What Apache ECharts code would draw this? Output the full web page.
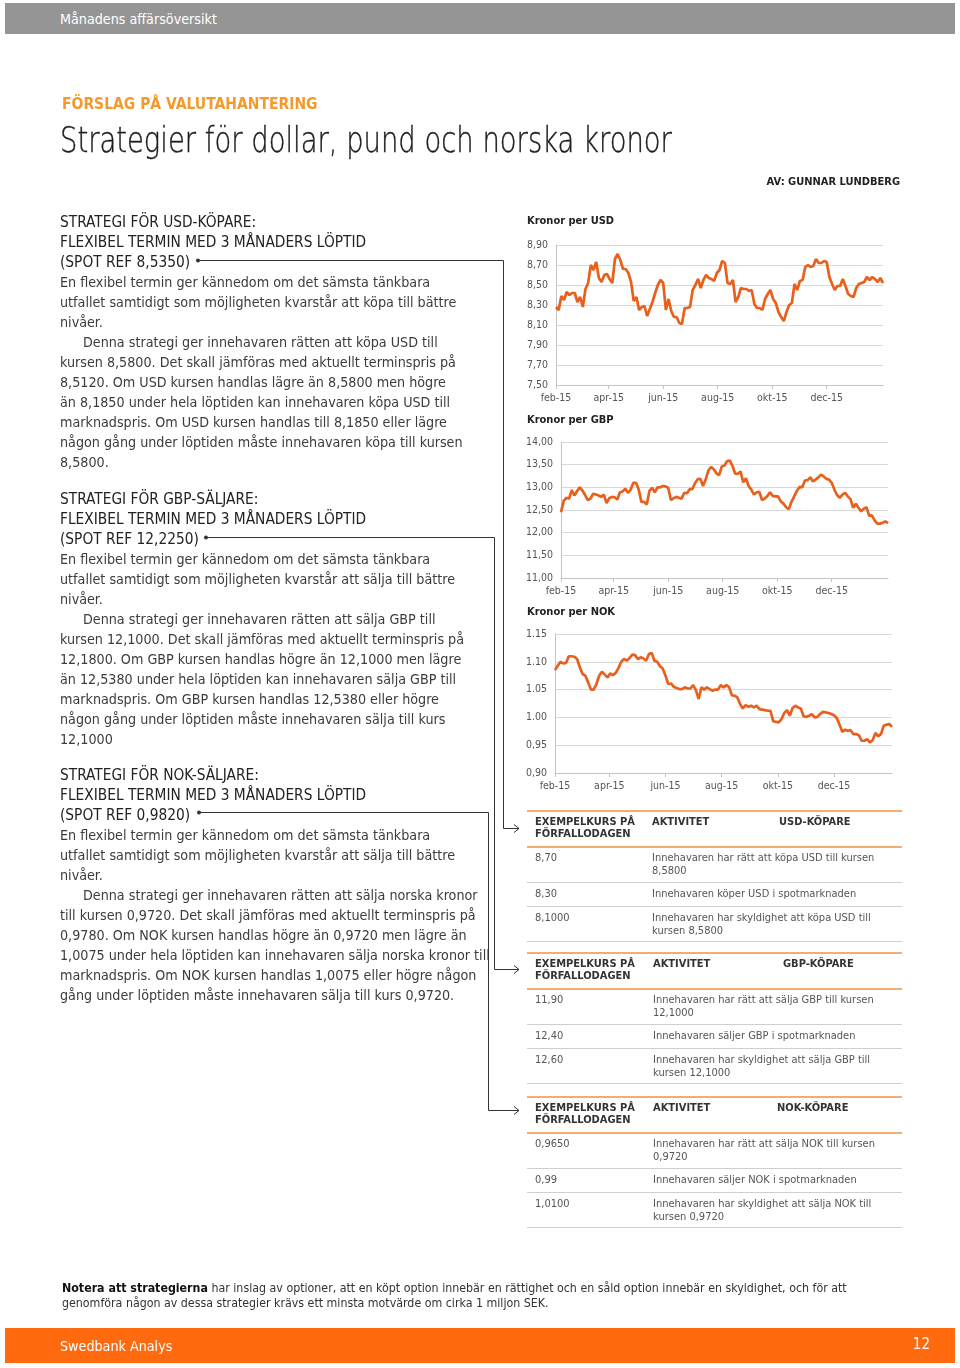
<!DOCTYPE html>
<html><head><meta charset="utf-8">
<script src="https://cdn.jsdelivr.net/npm/echarts@6/dist/echarts.min.js"></script>
<style>
html,body{margin:0;padding:0;background:#fff;}
#page{position:relative;width:960px;height:1368px;overflow:hidden;font-family:'DejaVu Sans Condensed','DejaVu Sans',sans-serif;color:#333;}
#chart{position:absolute;left:0;top:0;width:960px;height:1368px;}
.abs{position:absolute;white-space:nowrap;}
.block{left:60px;font-size:14.2px;line-height:20px;color:#3c3c3c;}
.block .hd{color:#222;font-size:15.3px;}
.ind{padding-left:23px;}
.th{font-size:11px;font-weight:bold;line-height:12px;color:#333;}
.td{font-size:11px;line-height:13px;color:#555;}
.ol{position:absolute;left:527px;width:375px;height:2px;background:#f2ad73;}
.gl{position:absolute;left:527px;width:375px;height:1px;background:#cfcfcf;}
</style></head>
<body>
<div id="page">
<div id="chart"></div>

<div class="abs" style="left:5px;top:3px;width:950px;height:31px;background:#959595;"></div>
<div class="abs" style="left:60px;top:9px;font-size:14.2px;line-height:20px;color:#fff;">Månadens affärsöversikt</div>
<div class="abs" style="left:62px;top:94px;font-size:15.5px;line-height:20px;font-weight:bold;color:#f39a2b;">FÖRSLAG PÅ VALUTAHANTERING</div>
<div id="ttl" class="abs" style="left:60px;top:118px;font-family:'DejaVu Sans',sans-serif;font-weight:200;font-size:35px;line-height:44px;color:#1e1e1e;-webkit-text-stroke:0.4px #1e1e1e;transform-origin:0 0;">Strategier för dollar, pund och norska kronor</div>
<div class="abs" style="right:60px;top:175px;font-size:11px;line-height:14px;font-weight:bold;color:#222;">AV: GUNNAR LUNDBERG</div>

<div class="abs block" style="top:212px;">
<div class="hd">STRATEGI FÖR USD-KÖPARE:</div>
<div class="hd">FLEXIBEL TERMIN MED 3 MÅNADERS LÖPTID</div>
<div class="hd">(SPOT REF 8,5350)</div>
<div>En flexibel termin ger kännedom om det sämsta tänkbara</div>
<div>utfallet samtidigt som möjligheten kvarstår att köpa till bättre</div>
<div>nivåer.</div>
<div class="ind">Denna strategi ger innehavaren rätten att köpa USD till</div>
<div>kursen 8,5800. Det skall jämföras med aktuellt terminspris på</div>
<div>8,5120. Om USD kursen handlas lägre än 8,5800 men högre</div>
<div>än 8,1850 under hela löptiden kan innehavaren köpa USD till</div>
<div>marknadspris. Om USD kursen handlas till 8,1850 eller lägre</div>
<div>någon gång under löptiden måste innehavaren köpa till kursen</div>
<div>8,5800.</div>
</div>

<div class="abs block" style="top:489px;">
<div class="hd">STRATEGI FÖR GBP-SÄLJARE:</div>
<div class="hd">FLEXIBEL TERMIN MED 3 MÅNADERS LÖPTID</div>
<div class="hd">(SPOT REF 12,2250)</div>
<div>En flexibel termin ger kännedom om det sämsta tänkbara</div>
<div>utfallet samtidigt som möjligheten kvarstår att sälja till bättre</div>
<div>nivåer.</div>
<div class="ind">Denna strategi ger innehavaren rätten att sälja GBP till</div>
<div>kursen 12,1000. Det skall jämföras med aktuellt terminspris på</div>
<div>12,1800. Om GBP kursen handlas högre än 12,1000 men lägre</div>
<div>än 12,5380 under hela löptiden kan innehavaren sälja GBP till</div>
<div>marknadspris. Om GBP kursen handlas 12,5380 eller högre</div>
<div>någon gång under löptiden måste innehavaren sälja till kurs</div>
<div>12,1000</div>
</div>

<div class="abs block" style="top:765px;">
<div class="hd">STRATEGI FÖR NOK-SÄLJARE:</div>
<div class="hd">FLEXIBEL TERMIN MED 3 MÅNADERS LÖPTID</div>
<div class="hd">(SPOT REF 0,9820)</div>
<div>En flexibel termin ger kännedom om det sämsta tänkbara</div>
<div>utfallet samtidigt som möjligheten kvarstår att sälja till bättre</div>
<div>nivåer.</div>
<div class="ind">Denna strategi ger innehavaren rätten att sälja norska kronor</div>
<div>till kursen 0,9720. Det skall jämföras med aktuellt terminspris på</div>
<div>0,9780. Om NOK kursen handlas högre än 0,9720 men lägre än</div>
<div>1,0075 under hela löptiden kan innehavaren sälja norska kronor till</div>
<div>marknadspris. Om NOK kursen handlas 1,0075 eller högre någon</div>
<div>gång under löptiden måste innehavaren sälja till kurs 0,9720.</div>
</div>

<svg class="abs" style="left:0;top:0;" width="960" height="1368" fill="none" stroke="#333" stroke-width="1">
<circle cx="198" cy="260.5" r="2" fill="#333" stroke="none"/>
<path d="M198 260.5 H503.5 V828.5 H519 M514 824.5 L519 828.5 L514 832.5"/>
<circle cx="206" cy="537.5" r="2" fill="#333" stroke="none"/>
<path d="M206 537.5 H494.5 V969.5 H519 M514 965.5 L519 969.5 L514 973.5"/>
<circle cx="199" cy="812.5" r="2" fill="#333" stroke="none"/>
<path d="M199 812.5 H488.5 V1110.5 H519 M514 1106.5 L519 1110.5 L514 1114.5"/>
</svg>

<!-- Table USD -->
<div class="ol" style="top:810px;"></div>
<div class="abs th" style="left:535px;top:816px;">EXEMPELKURS PÅ<br>FÖRFALLODAGEN</div>
<div class="abs th" style="left:652px;top:816px;">AKTIVITET</div>
<div class="abs th" style="left:779px;top:816px;">USD-KÖPARE</div>
<div class="ol" style="top:846px;"></div>
<div class="abs td" style="left:535px;top:851px;">8,70</div>
<div class="abs td" style="left:652px;top:851px;">Innehavaren har rätt att köpa USD till kursen<br>8,5800</div>
<div class="gl" style="top:882px;"></div>
<div class="abs td" style="left:535px;top:887px;">8,30</div>
<div class="abs td" style="left:652px;top:887px;">Innehavaren köper USD i spotmarknaden</div>
<div class="gl" style="top:906px;"></div>
<div class="abs td" style="left:535px;top:911px;">8,1000</div>
<div class="abs td" style="left:652px;top:911px;">Innehavaren har skyldighet att köpa USD till<br>kursen 8,5800</div>
<div class="gl" style="top:941px;"></div>

<!-- Table GBP -->
<div class="ol" style="top:952px;"></div>
<div class="abs th" style="left:535px;top:958px;">EXEMPELKURS PÅ<br>FÖRFALLODAGEN</div>
<div class="abs th" style="left:653px;top:958px;">AKTIVITET</div>
<div class="abs th" style="left:783px;top:958px;">GBP-KÖPARE</div>
<div class="ol" style="top:988px;"></div>
<div class="abs td" style="left:535px;top:993px;">11,90</div>
<div class="abs td" style="left:653px;top:993px;">Innehavaren har rätt att sälja GBP till kursen<br>12,1000</div>
<div class="gl" style="top:1024px;"></div>
<div class="abs td" style="left:535px;top:1029px;">12,40</div>
<div class="abs td" style="left:653px;top:1029px;">Innehavaren säljer GBP i spotmarknaden</div>
<div class="gl" style="top:1048px;"></div>
<div class="abs td" style="left:535px;top:1053px;">12,60</div>
<div class="abs td" style="left:653px;top:1053px;">Innehavaren har skyldighet att sälja GBP till<br>kursen 12,1000</div>
<div class="gl" style="top:1083px;"></div>

<!-- Table NOK -->
<div class="ol" style="top:1096px;"></div>
<div class="abs th" style="left:535px;top:1102px;">EXEMPELKURS PÅ<br>FÖRFALLODAGEN</div>
<div class="abs th" style="left:653px;top:1102px;">AKTIVITET</div>
<div class="abs th" style="left:777px;top:1102px;">NOK-KÖPARE</div>
<div class="ol" style="top:1132px;"></div>
<div class="abs td" style="left:535px;top:1137px;">0,9650</div>
<div class="abs td" style="left:653px;top:1137px;">Innehavaren har rätt att sälja NOK till kursen<br>0,9720</div>
<div class="gl" style="top:1168px;"></div>
<div class="abs td" style="left:535px;top:1173px;">0,99</div>
<div class="abs td" style="left:653px;top:1173px;">Innehavaren säljer NOK i spotmarknaden</div>
<div class="gl" style="top:1192px;"></div>
<div class="abs td" style="left:535px;top:1197px;">1,0100</div>
<div class="abs td" style="left:653px;top:1197px;">Innehavaren har skyldighet att sälja NOK till<br>kursen 0,9720</div>
<div class="gl" style="top:1227px;"></div>

<div class="abs" style="left:62px;top:1281px;font-size:12.3px;line-height:15px;color:#333;"><b style="color:#111;">Notera att strategierna</b> har inslag av optioner, att en köpt option innebär en rättighet och en såld option innebär en skyldighet, och för att<br>genomföra någon av dessa strategier krävs ett minsta motvärde om cirka 1 miljon SEK.</div>

<div class="abs" style="left:5px;top:1328px;width:950px;height:35px;background:#ff6a0e;"></div>
<div class="abs" style="left:60px;top:1336px;font-size:14.2px;line-height:20px;color:#fff;">Swedbank Analys</div>
<div class="abs" style="right:30px;top:1334px;font-size:15px;line-height:20px;color:#fff;">12</div>
</div>

<script>
// ---------- data ----------
const dates = [
'2015-02-01','2015-02-04','2015-02-07','2015-02-10','2015-02-13','2015-02-16','2015-02-19','2015-02-22','2015-02-25','2015-02-28',
'2015-03-03','2015-03-06','2015-03-09','2015-03-12','2015-03-15','2015-03-18','2015-03-21','2015-03-24','2015-03-27','2015-03-30',
'2015-04-02','2015-04-05','2015-04-08','2015-04-11','2015-04-14','2015-04-17','2015-04-20','2015-04-23','2015-04-26','2015-04-29',
'2015-05-02','2015-05-05','2015-05-08','2015-05-11','2015-05-14','2015-05-17','2015-05-20','2015-05-23','2015-05-26','2015-05-29',
'2015-06-01','2015-06-04','2015-06-07','2015-06-10','2015-06-13','2015-06-16','2015-06-19','2015-06-22','2015-06-25','2015-06-28',
'2015-07-01','2015-07-04','2015-07-07','2015-07-10','2015-07-13','2015-07-16','2015-07-19','2015-07-22','2015-07-25','2015-07-28','2015-07-31',
'2015-08-03','2015-08-06','2015-08-09','2015-08-12','2015-08-15','2015-08-18','2015-08-21','2015-08-24','2015-08-27','2015-08-30',
'2015-09-02','2015-09-05','2015-09-08','2015-09-11','2015-09-14','2015-09-17','2015-09-20','2015-09-23','2015-09-26','2015-09-29',
'2015-10-02','2015-10-05','2015-10-08','2015-10-11','2015-10-14','2015-10-17','2015-10-20','2015-10-23','2015-10-26','2015-10-29',
'2015-11-01','2015-11-04','2015-11-07','2015-11-10','2015-11-13','2015-11-16','2015-11-19','2015-11-22','2015-11-25','2015-11-28',
'2015-12-01','2015-12-04','2015-12-07','2015-12-10','2015-12-13','2015-12-16','2015-12-19','2015-12-22','2015-12-25','2015-12-28','2015-12-31',
'2016-01-03','2016-01-06','2016-01-09','2016-01-12','2016-01-15','2016-01-18','2016-01-21','2016-01-24','2016-01-27','2016-01-30',
'2016-02-02'];

const usdValues = [
8.28,8.25,8.39,8.35,8.43,8.40,8.42,8.42,8.33,8.38,
8.28,8.46,8.52,8.70,8.65,8.73,8.57,8.53,8.60,8.61,
8.56,8.52,8.76,8.81,8.75,8.66,8.66,8.62,8.53,8.34,
8.38,8.25,8.28,8.29,8.19,8.26,8.33,8.42,8.50,8.55,
8.52,8.25,8.36,8.24,8.18,8.18,8.12,8.11,8.27,8.27,
8.28,8.45,8.50,8.56,8.47,8.55,8.60,8.57,8.56,8.54,
8.62,8.65,8.74,8.72,8.52,8.51,8.55,8.33,8.38,8.47,
8.46,8.46,8.44,8.45,8.31,8.27,8.27,8.25,8.36,8.41,
8.45,8.36,8.32,8.23,8.18,8.14,8.23,8.30,8.32,8.51,
8.45,8.54,8.55,8.68,8.70,8.68,8.69,8.76,8.72,8.72,
8.74,8.73,8.58,8.51,8.45,8.49,8.49,8.56,8.49,8.41,
8.39,8.38,8.47,8.51,8.52,8.53,8.58,8.55,8.58,8.56,
8.53,8.57,8.52];

const gbpValues = [
12.45,12.70,12.77,12.75,12.94,12.82,12.92,13.00,12.93,12.83,
12.72,12.75,12.86,12.84,12.82,12.79,12.84,12.65,12.76,12.79,
12.78,12.73,12.89,12.91,12.97,12.88,12.95,13.10,13.10,12.95,
12.68,12.68,12.62,12.92,12.99,12.89,13.00,13.00,13.03,13.02,
12.99,12.72,12.76,12.79,12.77,12.75,12.88,12.87,12.96,12.96,
13.09,13.18,13.19,13.03,13.18,13.37,13.45,13.40,13.31,13.27,
13.46,13.48,13.58,13.59,13.47,13.30,13.30,13.35,13.11,13.20,
13.03,12.95,12.84,12.89,12.90,12.72,12.75,12.81,12.89,12.81,
12.80,12.80,12.69,12.64,12.56,12.52,12.68,12.80,12.92,13.01,
13.00,13.15,13.16,13.22,13.13,13.17,13.22,13.28,13.24,13.19,
13.17,13.10,12.95,12.83,12.77,12.84,12.88,12.80,12.74,12.55,
12.64,12.55,12.47,12.53,12.56,12.37,12.38,12.27,12.20,12.20,
12.22,12.25,12.21];

const nokValues = [
1.085,1.093,1.100,1.097,1.098,1.110,1.110,1.109,1.105,1.090,
1.078,1.075,1.063,1.050,1.050,1.060,1.075,1.082,1.077,1.072,
1.079,1.076,1.080,1.089,1.100,1.105,1.102,1.107,1.113,1.112,
1.105,1.108,1.106,1.102,1.114,1.116,1.102,1.100,1.092,1.088,
1.075,1.060,1.061,1.055,1.053,1.051,1.051,1.054,1.052,1.052,
1.058,1.049,1.033,1.054,1.050,1.054,1.051,1.048,1.050,1.050,
1.058,1.054,1.058,1.055,1.040,1.039,1.036,1.024,1.016,1.022,
1.019,1.021,1.018,1.021,1.015,1.014,1.013,1.012,1.012,0.993,
0.992,0.991,0.997,1.008,1.013,1.003,1.017,1.021,1.018,1.016,
1.002,1.001,1.003,1.006,1.000,1.001,1.006,1.010,1.009,1.008,
1.006,1.004,0.999,0.987,0.974,0.978,0.976,0.977,0.970,0.970,
0.968,0.958,0.958,0.961,0.955,0.959,0.972,0.966,0.970,0.985,
0.987,0.988,0.983];

const xTickDates = ['2015-02-01','2015-04-01','2015-06-01','2015-08-01','2015-10-01','2015-12-01'];
const xTickLabels = ['feb-15','apr-15','jun-15','aug-15','okt-15','dec-15'];

const usdYTicks = [7.5, 7.7, 7.9, 8.1, 8.3, 8.5, 8.7, 8.9];
const usdYLabels = ['7,50','7,70','7,90','8,10','8,30','8,50','8,70','8,90'];
const gbpYTicks = [11, 11.5, 12, 12.5, 13, 13.5, 14];
const gbpYLabels = ['11,00','11,50','12,00','12,50','13,00','13,50','14,00'];
const nokYTicks = [0.9, 0.95, 1.0, 1.05, 1.1, 1.15];
const nokYLabels = ['0,90','0,95','1.00','1.05','1.10','1.15'];

const chartTitles = ['Kronor per USD', 'Kronor per GBP', 'Kronor per NOK'];

// ---------- layout helpers ----------
const ttl = document.getElementById('ttl');
ttl.style.transform = 'scaleX(' + (612 / ttl.offsetWidth) + ')';

// ---------- chart ----------
const FONT = "'DejaVu Sans Condensed','DejaVu Sans',sans-serif";
const LINE = '#e8601c';
const ts = d => +echarts.number.parseDate(d);
const xTickStamps = xTickDates.map(ts);
const xStamps = dates.map(ts);

function mkX(g) {
  return {
    type: 'value', gridIndex: g, min: xStamps[0], max: xStamps[xStamps.length - 1],
    axisLine: { show: true, lineStyle: { color: '#c4c4c4' } },
    axisTick: { show: true, length: 4, lineStyle: { color: '#c4c4c4' }, customValues: xTickStamps },
    axisLabel: {
      customValues: xTickStamps, fontSize: 10.5, color: '#555', margin: 8, fontFamily: FONT,
      formatter: v => { const i = xTickStamps.indexOf(+v); return i < 0 ? '' : xTickLabels[i]; }
    },
    splitLine: { show: false }
  };
}
function mkY(g, ticks, labels) {
  return {
    type: 'value', gridIndex: g, min: ticks[0], max: ticks[ticks.length - 1],
    axisLine: { show: true, lineStyle: { color: '#c4c4c4' } },
    axisTick: { show: false, customValues: ticks },
    axisLabel: {
      customValues: ticks, fontSize: 10.5, color: '#555', margin: 8, fontFamily: FONT,
      formatter: v => { const i = ticks.findIndex(t => Math.abs(t - v) < 1e-6); return i < 0 ? '' : labels[i]; }
    },
    splitLine: { show: true, lineStyle: { color: '#d9d9d9', width: 1 } }
  };
}
function mkS(g, vals) {
  return {
    type: 'line', xAxisIndex: g, yAxisIndex: g, showSymbol: false, silent: true,
    data: xStamps.map((t, i) => [t, vals[i]]),
    lineStyle: { color: LINE, width: 2.7 }, itemStyle: { color: LINE }
  };
}

const chart = echarts.init(document.getElementById('chart'));
chart.setOption({
  animation: false,
  backgroundColor: 'transparent',
  title: [
    { text: chartTitles[0], left: 527, top: 216 },
    { text: chartTitles[1], left: 527, top: 415 },
    { text: chartTitles[2], left: 527, top: 607 }
  ].map(t => Object.assign(t, { padding: 0, textStyle: { fontSize: 11, fontWeight: 'bold', color: '#222', fontFamily: FONT } })),
  grid: [
    { left: 556, top: 245, width: 327, height: 140 },
    { left: 561, top: 442, width: 327, height: 136 },
    { left: 555, top: 634, width: 337, height: 139 }
  ],
  xAxis: [mkX(0), mkX(1), mkX(2)],
  yAxis: [mkY(0, usdYTicks, usdYLabels), mkY(1, gbpYTicks, gbpYLabels), mkY(2, nokYTicks, nokYLabels)],
  series: [mkS(0, usdValues), mkS(1, gbpValues), mkS(2, nokValues)]
});
</script>
</body></html>
